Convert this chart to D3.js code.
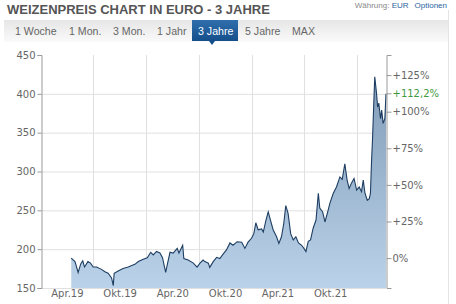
<!DOCTYPE html>
<html>
<head>
<meta charset="utf-8">
<script src="https://cdn.jsdelivr.net/npm/d3@7"></script>
<style>
  body { margin: 0; background: #fff; }
  svg { display: block; }
</style>
</head>
<body>
<svg id="chart"></svg>
<script>
const W = 456, H = 304;
const title = "WEIZENPREIS CHART IN EURO - 3 JAHRE";
const tabs = ["1 Woche", "1 Mon.", "3 Mon.", "1 Jahr", "3 Jahre", "5 Jahre", "MAX"];
const activeTab = "3 Jahre";
const priceTicks = [150, 200, 250, 300, 350, 400, 450];
const pctTicks = [0, 25, 50, 75, 100, 125];
const labelDates = ["2019-04-01", "2019-10-01", "2020-04-01", "2020-10-01", "2021-04-01", "2021-10-01"];
const gridDates = ["2019-07-01", "2020-01-01", "2020-07-01", "2021-01-01", "2021-07-01", "2022-01-01"];
const months = ["Jan.", "Feb.", "Mär.", "Apr.", "Mai", "Jun.", "Jul.", "Aug.", "Sep.", "Okt.", "Nov.", "Dez."];

// weizenpreis in euro (je tonne)
const dates = [
  "2019-04-16","2019-04-29","2019-05-10","2019-05-19","2019-05-26","2019-06-01","2019-06-13","2019-06-22",
  "2019-07-01","2019-07-13","2019-07-30","2019-08-11","2019-08-22","2019-09-03","2019-09-09","2019-09-12",
  "2019-09-26","2019-10-13","2019-10-31","2019-11-12","2019-11-23","2019-12-05","2019-12-22","2020-01-05",
  "2020-01-17","2020-01-26","2020-02-06","2020-02-18","2020-02-27","2020-03-03","2020-03-09","2020-03-14",
  "2020-03-24","2020-04-04","2020-04-18","2020-04-24","2020-05-07","2020-05-11","2020-05-26","2020-06-13",
  "2020-06-26","2020-07-06","2020-07-17","2020-07-23","2020-08-04","2020-08-09","2020-08-21","2020-09-02",
  "2020-09-13","2020-09-25","2020-10-06","2020-10-18","2020-10-29","2020-11-12","2020-11-28","2020-12-09",
  "2020-12-20","2021-01-01","2021-01-09","2021-01-16","2021-01-24","2021-02-05","2021-02-11","2021-02-20",
  "2021-02-28","2021-03-08","2021-03-17","2021-03-29","2021-04-06","2021-04-15","2021-04-23","2021-04-30",
  "2021-05-08","2021-05-17","2021-05-26","2021-06-04","2021-06-13","2021-06-24","2021-07-02","2021-07-09",
  "2021-07-17","2021-07-25","2021-08-03","2021-08-13","2021-08-21","2021-08-26","2021-09-05","2021-09-13",
  "2021-09-24","2021-09-30","2021-10-12","2021-10-23","2021-11-04","2021-11-12","2021-11-21","2021-11-29",
  "2021-12-06","2021-12-14","2021-12-23","2022-01-01","2022-01-10","2022-01-18","2022-01-24","2022-01-30",
  "2022-02-07","2022-02-14","2022-02-18","2022-02-22","2022-02-25","2022-03-02","2022-03-05","2022-03-11",
  "2022-03-15","2022-03-19","2022-03-25","2022-03-29","2022-04-03","2022-04-09","2022-04-13"
];
const prices = [
  188.5, 184, 170, 181, 185, 177, 184, 182,
  177, 177, 174, 171, 169, 163, 153, 169,
  172, 175, 177, 179, 180.5, 184, 187, 189,
  196, 192.5, 197, 195, 189, 180, 170, 179,
  196, 195, 201, 195, 205, 188, 186, 182,
  177, 182, 186, 184, 182, 176.6, 184, 189.5,
  188, 194, 199, 208, 205, 209.6, 209, 201,
  209, 214, 220, 234, 225, 226, 222, 237,
  248, 237, 225, 216, 207.5, 216, 233, 256,
  246, 220, 212, 216, 208, 205, 201, 197,
  210, 212, 227, 237.5, 272, 253, 248, 235,
  250, 259, 272, 280, 293, 290, 310, 289,
  278, 285, 291, 276, 280, 274, 289, 272,
  263, 265, 272, 315, 340, 392, 422, 401,
  383, 388, 368, 379, 362, 368, 400
];

const parse = d3.timeParse("%Y-%m-%d");
const data = dates.map((d, i) => ({ date: parse(d), value: prices[i] }));
const base = prices[0];
const last = prices[prices.length - 1];

const plotLeft = 41, plotRight = 386, plotTop = 55, plotBottom = 288;
const x = d3.scaleTime().domain([parse("2019-01-01"), parse("2022-04-13")]).range([plotLeft, plotRight]);
const y = d3.scaleLinear().domain([150, 450]).range([plotBottom, plotTop]);
const yp = d3.scaleLinear().domain([(150 / base - 1) * 100, (450 / base - 1) * 100]).range([plotBottom, plotTop]);

const svg = d3.select("#chart").attr("width", W).attr("height", H)
  .style("font-family", "'DejaVu Sans', sans-serif");

const defs = svg.append("defs");
const fillGrad = defs.append("linearGradient").attr("id", "fillGrad")
  .attr("gradientUnits", "userSpaceOnUse").attr("x1", 0).attr("x2", 0).attr("y1", plotTop).attr("y2", plotBottom);
fillGrad.append("stop").attr("offset", 0).attr("stop-color", "#7d96b2");
fillGrad.append("stop").attr("offset", 1).attr("stop-color", "#bad3ea");
const barGrad = defs.append("linearGradient").attr("id", "barGrad").attr("x1", 0).attr("x2", 0).attr("y1", 0).attr("y2", 1);
barGrad.append("stop").attr("offset", 0).attr("stop-color", "#e6e6e6");
barGrad.append("stop").attr("offset", 1).attr("stop-color", "#fafafa");
const tabGrad = defs.append("linearGradient").attr("id", "tabGrad").attr("x1", 0).attr("x2", 0).attr("y1", 0).attr("y2", 1);
tabGrad.append("stop").attr("offset", 0).attr("stop-color", "#2f6ead");
tabGrad.append("stop").attr("offset", 1).attr("stop-color", "#154f8b");

// header
svg.append("text").attr("x", 7).attr("y", 14)
  .style("font-family", "'Liberation Sans', Arial, sans-serif")
  .style("font-weight", "bold").style("font-size", "13px").attr("fill", "#555")
  .text(title);

const opt = svg.append("text").attr("x", 447).attr("y", 8).attr("text-anchor", "end")
  .style("font-family", "'Liberation Sans', Arial, sans-serif").style("font-size", "8px");
opt.append("tspan").attr("fill", "#888").text("Währung: ");
opt.append("tspan").attr("fill", "#2a64a0").text("EUR");
opt.append("tspan").attr("fill", "#2a64a0").attr("dx", 6).text("Optionen");

svg.append("line").attr("x1", 448.5).attr("x2", 448.5).attr("y1", 10).attr("y2", H)
  .attr("stroke", "#e4e4e4");

// tab bar
svg.append("rect").attr("x", 4).attr("y", 20).attr("width", 444).attr("height", 22).attr("fill", "url(#barGrad)");
const tabX = [15, 69, 113, 157, 198, 245, 292];
tabs.forEach((t, i) => {
  if (t === activeTab) {
    svg.append("rect").attr("x", tabX[i] - 6).attr("y", 20).attr("width", 46).attr("height", 21)
      .attr("fill", "url(#tabGrad)");
    svg.append("path").attr("d", `M${tabX[i] + 11},41 L${tabX[i] + 17},41 L${tabX[i] + 14},45 Z`)
      .attr("fill", "#154f8b");
  }
  svg.append("text").attr("x", tabX[i]).attr("y", 35)
    .style("font-family", "'Liberation Sans', Arial, sans-serif").style("font-size", "10.6px")
    .attr("fill", t === activeTab ? "#fff" : "#666").text(t);
});

// grid
svg.append("g").selectAll("line").data(priceTicks.filter(v => v < 450)).join("line")
  .attr("x1", plotLeft).attr("x2", plotRight).attr("y1", d => y(d) + 0.5).attr("y2", d => y(d) + 0.5)
  .attr("stroke", "#e0e0e0");
svg.append("g").selectAll("line").data(gridDates.map(parse)).join("line")
  .attr("x1", d => Math.round(x(d)) + 0.5).attr("x2", d => Math.round(x(d)) + 0.5)
  .attr("y1", plotTop).attr("y2", plotBottom)
  .attr("stroke", "#e0e0e0");

// area + line
svg.append("path").datum(data)
  .attr("fill", "url(#fillGrad)")
  .attr("d", d3.area().x(d => x(d.date)).y0(plotBottom).y1(d => y(d.value)));
svg.append("path").datum(data)
  .attr("fill", "none").attr("stroke", "#1d3e62").attr("stroke-width", 1.1)
  .attr("d", d3.line().x(d => x(d.date)).y(d => y(d.value)));

// axes
const yAxis = svg.append("g").attr("transform", `translate(${plotLeft + 0.5},0)`)
  .call(d3.axisLeft(y).tickValues(priceTicks).tickSize(4).tickPadding(2));
const pAxis = svg.append("g").attr("transform", `translate(${plotRight + 0.5},0)`)
  .call(d3.axisRight(yp).tickValues(pctTicks).tickSize(5).tickPadding(1)
    .tickFormat(d => (d > 0 ? "+" : "") + d + "%"));
const xAxis = svg.append("g").attr("transform", `translate(0,${plotBottom})`)
  .call(d3.axisBottom(x).tickValues(labelDates.map(parse)).tickSize(0).tickPadding(2)
    .tickFormat(d => months[d.getMonth()] + d3.timeFormat("%y")(d)));
xAxis.select(".domain").remove();

[yAxis, pAxis, xAxis].forEach(g => {
  g.selectAll(".domain").attr("stroke", "#999");
  g.selectAll(".tick line").attr("stroke", "#999");
  g.selectAll("text").attr("fill", "#666").style("font-size", "10px").style("font-family", "'DejaVu Sans', sans-serif");
});

// current value marker on the percent axis
const lastPct = (last / base - 1) * 100;
const cur = svg.append("g").attr("transform", `translate(${plotRight + 0.5},${yp(lastPct)})`);
cur.append("line").attr("x1", 0).attr("x2", 5).attr("stroke", "#999");
cur.append("text").attr("x", 6).attr("dy", "0.32em").attr("fill", "#3f9a3f")
  .style("font-size", "10px")
  .text("+" + d3.format(".1f")(lastPct).replace(".", ",") + "%");
</script>
</body>
</html>
